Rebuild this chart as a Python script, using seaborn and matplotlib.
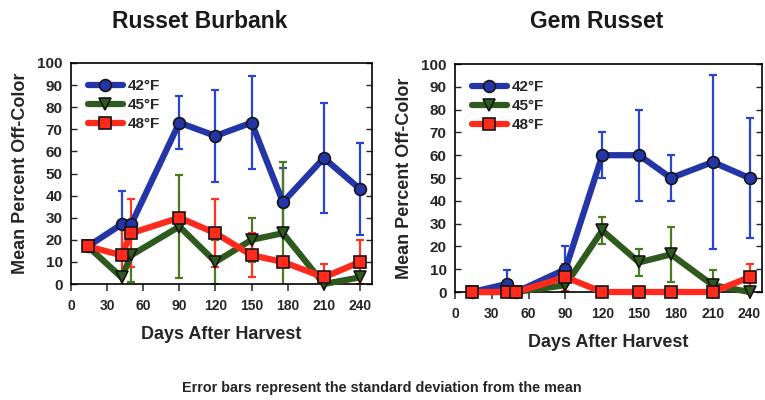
import pandas as pd
import matplotlib
matplotlib.use("Agg")
import matplotlib.pyplot as plt
import seaborn as sns

# days after harvest (same sampling dates for both varieties)
days = [14, 42, 50, 90, 120, 150, 176, 210, 240]
temps = ["42°F", "45°F", "48°F"]

# Russet Burbank: mean percent off-color and standard deviation
rb_42 = [17, 27, 27, 73, 67, 73, 37, 57, 43]
rb_42_sd = [0, 15, 0, 12, 21, 21, 15.5, 25, 21]
rb_45 = [17, 3, 13, 26, 10, 20, 23, 0, 3]
rb_45_sd = [0, 0, 12, 23.5, 10, 10, 32, 0, 0]
rb_48 = [17, 13, 23, 30, 23, 13, 10, 3, 10]
rb_48_sd = [0, 15, 15.5, 0, 15.5, 10, 0, 6, 10]

# Gem Russet
gr_42 = [0, 3.5, 0, 10, 60, 60, 50, 57, 50]
gr_42_sd = [0, 6, 0, 10, 10, 20, 10, 38, 26.5]
gr_45 = [0, 0, 0, 3, 27, 13, 16.5, 3, 0]
gr_45_sd = [0, 0, 0, 3, 6, 6, 12, 6.5, 0]
gr_48 = [0, 0, 0, 6.5, 0, 0, 0, 0, 6.5]
gr_48_sd = [0, 0, 0, 6, 0, 0, 0, 0, 6]

xticks = [0, 30, 60, 90, 120, 150, 180, 210, 240]
yticks = [0, 10, 20, 30, 40, 50, 60, 70, 80, 90, 100]

line_colors = {"42°F": "#2435a8", "45°F": "#2f5a1e", "48°F": "#ff2a1c"}
bar_colors = {"42°F": "#2a45c8", "45°F": "#4a7a22", "48°F": "#ff3522"}
markers = {"42°F": "o", "45°F": "v", "48°F": "s"}


def long_table(means, sds):
    rows = []
    for t, m, s in zip(temps, means, sds):
        for d, v, e in zip(days, m, s):
            rows.append({"days": d, "pct": v, "sd": e, "temp": t})
    return pd.DataFrame(rows)


df_rb = long_table([rb_42, rb_45, rb_48], [rb_42_sd, rb_45_sd, rb_48_sd])
df_gr = long_table([gr_42, gr_45, gr_48], [gr_42_sd, gr_45_sd, gr_48_sd])

sns.set_style("ticks")
plt.rcParams["font.family"] = ["Liberation Sans", "DejaVu Sans"]
plt.rcParams["font.weight"] = "bold"
plt.rcParams["axes.labelweight"] = "bold"

fig = plt.figure(figsize=(7.65, 4.0), dpi=100)
ax1 = fig.add_axes([0.0928, 0.29, 0.3935, 0.5525])
ax2 = fig.add_axes([0.5948, 0.27, 0.401, 0.57])


def draw(ax, df):
    sns.lineplot(
        data=df, x="days", y="pct", hue="temp", style="temp",
        palette=line_colors, markers=markers, dashes=False,
        linewidth=4.5, markersize=8.5, markeredgecolor="#151515",
        markeredgewidth=1.2, clip_on=False, legend=False, ax=ax,
        errorbar=None, zorder=3,
    )
    handles = list(ax.lines[:3])
    for t in temps:
        sub = df[(df["temp"] == t) & (df["sd"] > 0)]
        ax.errorbar(sub["days"], sub["pct"], yerr=sub["sd"], fmt="none",
                    ecolor=bar_colors[t], elinewidth=1.6, capsize=2.8,
                    capthick=1.6, zorder=2)
    ax.set_xlim(0, 250)
    ax.set_ylim(0, 100)
    ax.set_xticks(xticks)
    ax.set_yticks(yticks)
    ax.tick_params(axis="x", direction="out", length=5, width=1.1,
                   labelsize=10, pad=6)
    ax.tick_params(axis="y", direction="in", length=4, width=1.0,
                   labelsize=11, right=True, pad=6)
    for sp in ax.spines.values():
        sp.set_visible(True)
        sp.set_linewidth(1.2)
        sp.set_color("black")
    ax.set_xlabel("Days After Harvest", fontsize=13, labelpad=9)
    ax.set_ylabel("Mean Percent Off-Color", fontsize=13, labelpad=6)
    ax.legend(handles, temps, loc="upper left", frameon=False,
              fontsize=11, handlelength=2.3, handletextpad=0.3,
              labelspacing=0.32, borderaxespad=0.3,
              bbox_to_anchor=(0.02, 0.975))


draw(ax1, df_rb)
draw(ax2, df_gr)

fig.text(0.2614, 0.945, "Russet Burbank", ha="center", va="center",
         fontsize=16.5, fontweight="bold", color="#1a1a1a")
fig.text(0.7804, 0.945, "Gem Russet", ha="center", va="center",
         fontsize=16.5, fontweight="bold", color="#1a1a1a")
fig.text(0.4994, 0.03, "Error bars represent the standard deviation from the mean",
         ha="center", va="center", fontsize=10.4, fontweight="bold")

plt.savefig("out.png", dpi=100)
